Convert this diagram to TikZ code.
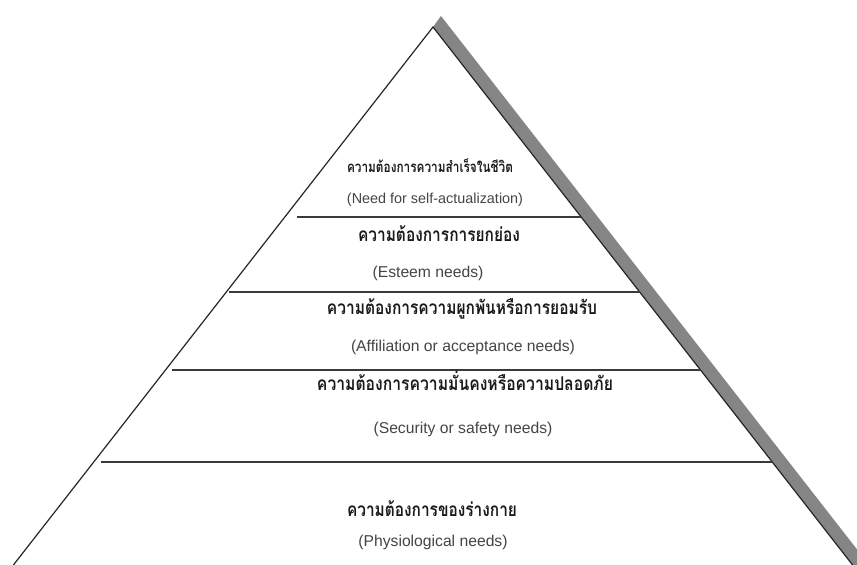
\documentclass[tikz,border=0pt]{standalone}
\usepackage{fontspec}
\usepackage{graphicx}
\setmainfont{Liberation Sans}
\newfontfamily\thaifont[Script=Thai]{Loma}
\newcommand\thfit[2]{\resizebox{#1}{\height}{\thaifont\bfseries #2}}
\definecolor{shadowgray}{HTML}{858585}
\definecolor{linegray}{HTML}{3A3A3A}
\definecolor{engray}{HTML}{454545}
\definecolor{thblack}{HTML}{1A1A1A}
\tikzset{
  edgeline/.style={draw=black!85, line width=1.2pt},
  levelline/.style={draw=linegray, line width=1.8pt},
  shadowband/.style={fill=shadowgray},
  thtext/.style={inner sep=0pt, anchor=base, text=thblack},
  entext/.style={inner sep=0pt, anchor=base, text=engray, font=\fontsize{15.7}{18}\selectfont},
}
\begin{document}
\begin{tikzpicture}[x=1pt, y=-1pt]
\useasboundingbox (0,0) rectangle (857,565);
\clip (0,0) rectangle (857,565);
\fill[white] (0,0) rectangle (857,565);
% geometry
\coordinate (apex) at (433,27);
\coordinate (stop) at (441,16);
\coordinate (bl) at (13.4,565);
\coordinate (br) at (852.6,565);
\coordinate (sbr) at (869.2,565);
\coordinate (l1a) at (297,217);   \coordinate (l1b) at (581.2,217);
\coordinate (l2a) at (229,292);   \coordinate (l2b) at (639.7,292);
\coordinate (l3a) at (172,370);   \coordinate (l3b) at (700.5,370);
\coordinate (l4a) at (101,462);   \coordinate (l4b) at (772.3,462);
% shadow band
\fill[shadowband] (apex) -- (stop) -- (sbr) -- (br) -- cycle;
% triangle sides
\draw[edgeline] (bl) -- (apex) -- (br);
% level lines
\draw[levelline] (l1a) -- (l1b);
\draw[levelline] (l2a) -- (l2b);
\draw[levelline] (l3a) -- (l3b);
\draw[levelline] (l4a) -- (l4b);
% texts
\node[thtext, font=\fontsize{15}{18}\selectfont] (t1) at (430,172) {\thfit{166pt}{ความต้องการความสำเร็จในชีวิต}};
\node[entext, font=\fontsize{14.4}{17}\selectfont] (e1) at (435,203) {(Need for self-actualization)};
\node[thtext, font=\fontsize{19}{22}\selectfont] (t2) at (439,241) {\thfit{162pt}{ความต้องการการยกย่อง}};
\node[entext] (e2) at (428,277) {(Esteem needs)};
\node[thtext, font=\fontsize{19}{22}\selectfont] (t3) at (462,314) {\thfit{270pt}{ความต้องการความผูกพันหรือการยอมรับ}};
\node[entext] (e3) at (463,351) {(Affiliation or acceptance needs)};
\node[thtext, font=\fontsize{19}{22}\selectfont] (t4) at (465,390) {\thfit{296pt}{ความต้องการความมั่นคงหรือความปลอดภัย}};
\node[entext] (e4) at (463,433) {(Security or safety needs)};
\node[thtext, font=\fontsize{19}{22}\selectfont] (t5) at (432,516) {\thfit{170pt}{ความต้องการของร่างกาย}};
\node[entext] (e5) at (433,546) {(Physiological needs)};
\end{tikzpicture}
\end{document}
